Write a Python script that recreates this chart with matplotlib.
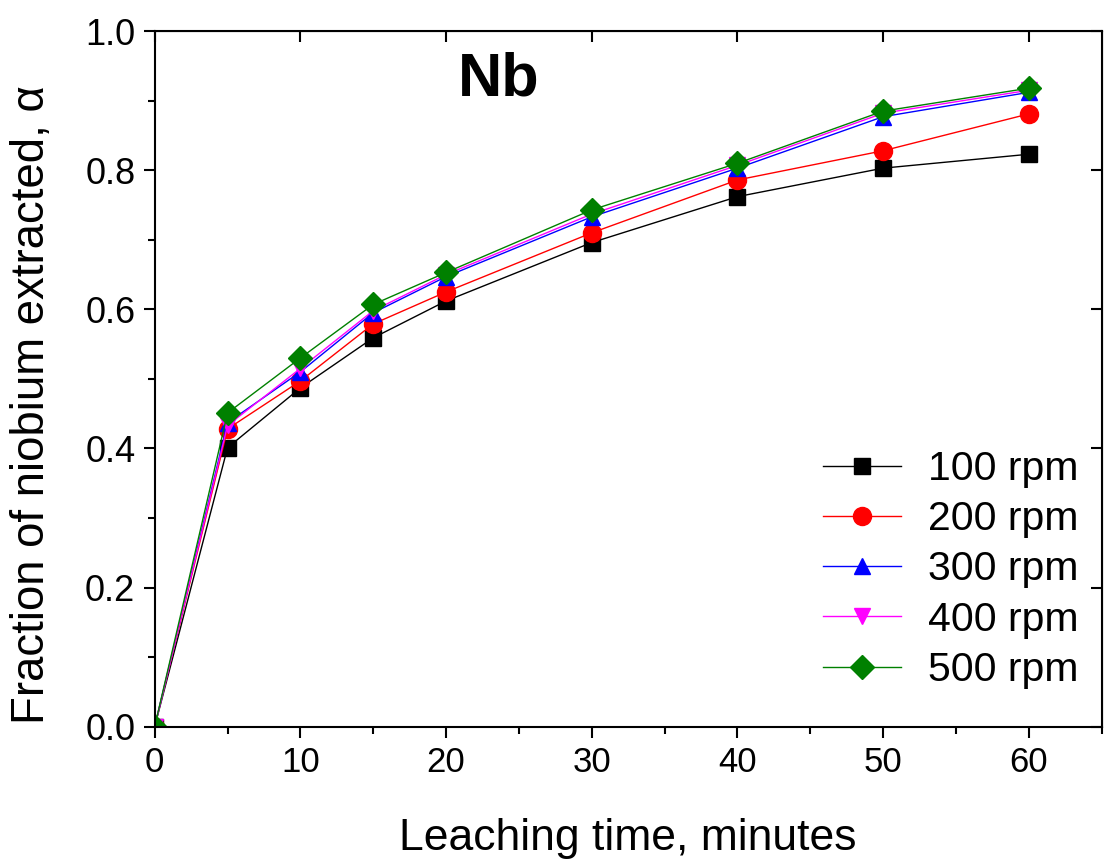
import matplotlib
matplotlib.use("Agg")
from matplotlib import pyplot as plt
from matplotlib.ticker import MultipleLocator

plt.rcParams['font.family'] = ['Liberation Sans', 'DejaVu Sans']

time = [0, 5, 10, 15, 20, 30, 40, 50, 60]
rpm100 = [0.0, 0.401, 0.487, 0.559, 0.612, 0.696, 0.762, 0.803, 0.823]
rpm200 = [0.0, 0.428, 0.497, 0.579, 0.625, 0.710, 0.786, 0.828, 0.881]
rpm300 = [0.0, 0.437, 0.510, 0.595, 0.647, 0.733, 0.803, 0.877, 0.912]
rpm400 = [0.0, 0.433, 0.515, 0.598, 0.650, 0.737, 0.807, 0.882, 0.915]
rpm500 = [0.0, 0.451, 0.530, 0.607, 0.653, 0.743, 0.810, 0.885, 0.918]

series = [
    (rpm100, '100 rpm', 'black', 's', 11.5),
    (rpm200, '200 rpm', 'red', 'o', 13),
    (rpm300, '300 rpm', 'blue', '^', 12),
    (rpm400, '400 rpm', 'magenta', 'v', 12),
    (rpm500, '500 rpm', 'green', 'D', 12),
]

fig = plt.figure(figsize=(11.05, 8.65), dpi=100)
ax = fig.add_axes([0.140, 0.160, 0.857, 0.804])

for vals, lab, col, mk, ms in series:
    ax.plot(time, vals, color=col, marker=mk, markersize=ms, linewidth=1, label=lab)

ax.set_xlim(0, 65)
ax.set_ylim(0, 1.0)
ax.xaxis.set_major_locator(MultipleLocator(10))
ax.xaxis.set_minor_locator(MultipleLocator(5))
ax.yaxis.set_major_locator(MultipleLocator(0.2))
ax.yaxis.set_minor_locator(MultipleLocator(0.1))
ax.tick_params(which='both', direction='out', width=1.5, labelsize=25, pad=6)
ax.tick_params(axis='y', labelsize=26)
ax.tick_params(which='major', length=8)
ax.tick_params(which='minor', length=5)
# inward ticks on top and right
for sec in (ax.secondary_xaxis('top'), ax.secondary_yaxis('right')):
    sec.tick_params(which='both', direction='in', width=1.5, labelleft=False,
                    labelright=False, labeltop=False, labelbottom=False)
    sec.tick_params(which='major', length=8)
    sec.tick_params(which='minor', length=5)
for sp in ax.spines.values():
    sp.set_linewidth(1.5)

ax.set_xlabel('Leaching time, minutes', fontsize=32)
ax.xaxis.set_label_coords(0.5, -0.131)
ax.set_ylabel('Fraction of niobium extracted, α', fontsize=32.8)
ax.yaxis.set_label_coords(-0.106, 0.4626)
ax.text(0.32, 0.93, 'Nb', transform=ax.transAxes, fontsize=44, fontweight='bold',
        ha='left', va='center')

leg = ax.legend(loc='lower right', fontsize=29.5, frameon=False, handlelength=1.9,
                labelspacing=0.3, handletextpad=0.68, bbox_to_anchor=(1.015, 0.001))

plt.savefig('out.png', dpi=100)
